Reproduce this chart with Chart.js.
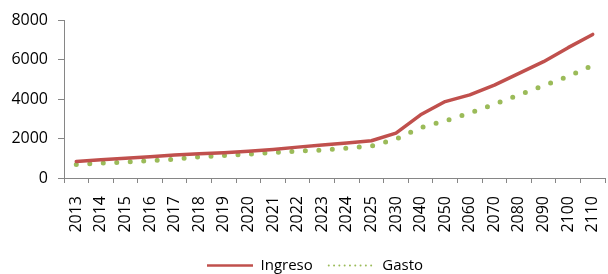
<!DOCTYPE html>
<html>
<head>
    <script src="https://cdn.jsdelivr.net/npm/chart.js@4/dist/chart.umd.min.js"></script>
    <style>
        body { margin: 0; background: #fff; }
    </style>
</head>
<body>
    <canvas id="myChart" width="608" height="274"></canvas>

    <script type="text/javascript">
        // data
        const years = ['2013', '2014', '2015', '2016', '2017', '2018', '2019', '2020', '2021', '2022',
            '2023', '2024', '2025', '2030', '2040', '2050', '2060', '2070', '2080', '2090', '2100', '2110'];
        const ingreso = [840, 924, 1005, 1075, 1160, 1228, 1280, 1350, 1447, 1563,
            1665, 1767, 1888, 2274, 3200, 3870, 4207, 4700, 5300, 5890, 6600, 7270];
        const gasto = [685, 752, 803, 873, 955, 1075, 1142, 1208, 1294, 1360,
            1411, 1513, 1614, 1970, 2550, 2894, 3283, 3737, 4207, 4677, 5150, 5700];
        const yTicks = [0, 2000, 4000, 6000, 8000];

        const axisGrey = '#868686';
        const font = { family: 'Open Sans', size: 16 };
        const legendFont = { family: 'Open Sans', size: 15 };

        const data = {
            labels: years,
            datasets: [{
                label: 'Ingreso',
                data: ingreso,
                borderColor: '#C0504D',
                backgroundColor: '#C0504D',
                borderWidth: 3.5,
                borderCapStyle: 'round',
                borderJoinStyle: 'round',
                pointRadius: 0,
                tension: 0
            }, {
                label: 'Gasto',
                data: gasto,
                borderColor: '#9BBB59',
                backgroundColor: '#9BBB59',
                borderWidth: 5,
                borderDash: [0, 13.5],
                borderCapStyle: 'round',
                pointRadius: 0,
                tension: 0
            }]
        };

        // legend starts at x=207 in the original, a bit right of centre
        const legendShift = {
            id: 'legendShift',
            afterUpdate: function (chart) {
                const lg = chart.legend;
                if (!lg || !lg.legendHitBoxes.length) return;
                const dx = 207 - lg.legendHitBoxes[0].left;
                lg.left += dx;
                lg.right += dx;
                lg.adjustHitBoxes();
            }
        };

        const config = {
            type: 'line',
            data: data,
            plugins: [legendShift],
            options: {
                responsive: false,
                animation: false,
                devicePixelRatio: 1,
                // negative bottom pulls the legend's empty lower padding off the canvas
                layout: { padding: { left: 0, right: 3, top: 20, bottom: -9 } },
                plugins: {
                    tooltip: { enabled: false },
                    legend: {
                        position: 'bottom',
                        labels: {
                            color: '#000',
                            font: legendFont,
                            padding: 16,
                            usePointStyle: true,
                            pointStyleWidth: 46,
                            generateLabels: function (chart) {
                                return chart.data.datasets.map(function (ds, i) {
                                    const dotted = i === 1;
                                    return {
                                        text: ds.label,
                                        datasetIndex: i,
                                        pointStyle: 'line',
                                        strokeStyle: ds.borderColor,
                                        fillStyle: ds.borderColor,
                                        lineWidth: dotted ? 2 : 2.5,
                                        lineDash: dotted ? [0, 5.3] : [],
                                        lineCap: dotted ? 'round' : 'butt',
                                        fontColor: '#000'
                                    };
                                });
                            }
                        }
                    }
                },
                scales: {
                    x: {
                        offset: true,
                        afterFit: function (scale) {
                            scale.height = 64;
                            scale.paddingLeft = 0;
                            scale.paddingRight = 0;
                        },
                        border: { display: true, color: axisGrey, width: 1 },
                        grid: {
                            offset: true,
                            drawOnChartArea: false,
                            drawTicks: true,
                            tickLength: 5,
                            color: axisGrey
                        },
                        ticks: {
                            color: '#000',
                            font: font,
                            minRotation: 90,
                            maxRotation: 90,
                            autoSkip: false,
                            padding: 13
                        }
                    },
                    y: {
                        min: 0,
                        max: 8000,
                        afterFit: function (scale) { scale.width = 64; },
                        afterBuildTicks: function (scale) {
                            scale.ticks = yTicks.map(function (v) { return { value: v }; });
                        },
                        border: { display: true, color: axisGrey, width: 1 },
                        grid: {
                            drawOnChartArea: false,
                            drawTicks: true,
                            tickLength: 6,
                            color: axisGrey
                        },
                        ticks: {
                            color: '#000',
                            font: font,
                            padding: 10,
                            callback: function (v) { return String(v); }
                        }
                    }
                }
            }
        };

        const chart = new Chart(
            document.getElementById('myChart'),
            config
        );
    </script>
</body>
</html>
